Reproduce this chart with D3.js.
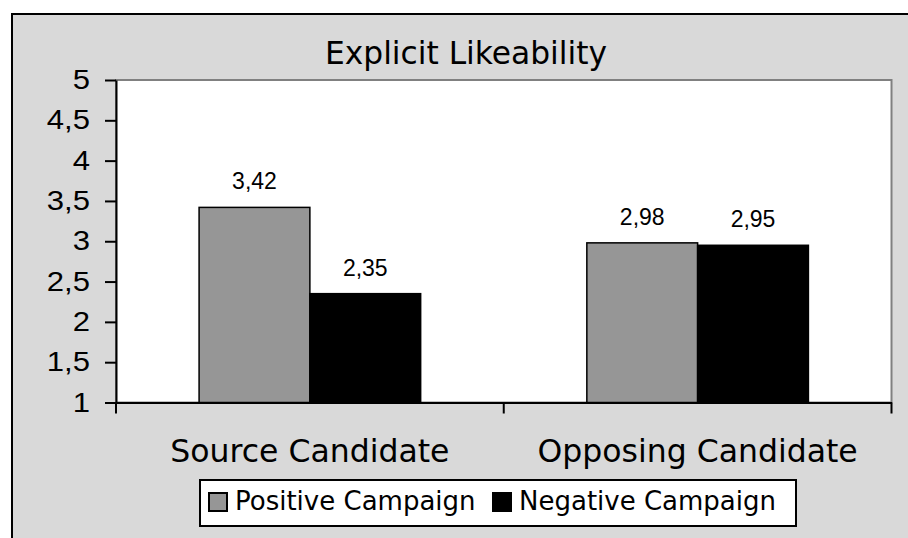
<!DOCTYPE html>
<html>
<head>
<meta charset="utf-8">
<script src="https://cdn.jsdelivr.net/npm/d3@7"></script>
<style>
  html, body { margin: 0; padding: 0; background: #ffffff; }
  svg { display: block; }
</style>
</head>
<body>
<svg id="chart" width="908" height="538"></svg>
<script>
// Chart data
const title = "Explicit Likeability";
const categories = ["Source Candidate", "Opposing Candidate"];
const seriesNames = ["Positive Campaign", "Negative Campaign"];
const positiveCampaign = [3.42, 2.98];
const negativeCampaign = [2.35, 2.95];
const yTicks = [1, 1.5, 2, 2.5, 3, 3.5, 4, 4.5, 5];
const seriesColors = ["#969696", "#000000"];

const W = 908, H = 538;
const plot = { left: 116, right: 891.5, top: 80, bottom: 402.5 };

const svg = d3.select("#chart");

// Decimal comma formatting
const locale = d3.formatLocale({ decimal: ",", thousands: ".", grouping: [3], currency: ["", ""] });
const fmtTick = locale.format("~g");
const fmtVal = locale.format(".2f");

// Chart area background with black frame
svg.append("rect")
  .attr("x", 12).attr("y", 14)
  .attr("width", W + 20).attr("height", H + 20)
  .attr("fill", "#d9d9d9")
  .attr("stroke", "#000").attr("stroke-width", 2);

// Scales
const x = d3.scaleBand().domain(categories).range([plot.left, plot.right]).paddingInner(0).paddingOuter(0);
const xs = d3.scaleBand().domain(seriesNames).range([0, x.bandwidth()]).paddingInner(0).paddingOuter(0.75);
const y = d3.scaleLinear().domain([1, 5]).range([plot.bottom, plot.top]);

// Plot area
svg.append("rect")
  .attr("x", plot.left).attr("y", plot.top)
  .attr("width", plot.right - plot.left).attr("height", plot.bottom - plot.top)
  .attr("fill", "#ffffff")
  .attr("stroke", "#808080").attr("stroke-width", 2);

// Bars
const rows = categories.map((c, i) => ({
  category: c,
  values: [
    { series: seriesNames[0], value: positiveCampaign[i], color: seriesColors[0] },
    { series: seriesNames[1], value: negativeCampaign[i], color: seriesColors[1] }
  ]
}));

const groups = svg.append("g").selectAll("g")
  .data(rows).join("g")
  .attr("transform", d => `translate(${x(d.category)},0)`);

groups.selectAll("rect")
  .data(d => d.values).join("rect")
  .attr("x", d => xs(d.series))
  .attr("y", d => y(d.value))
  .attr("width", xs.bandwidth())
  .attr("height", d => y(1) - y(d.value))
  .attr("fill", d => d.color)
  .attr("stroke", "#000").attr("stroke-width", 1.5);

// Value labels
groups.selectAll("text")
  .data(d => d.values).join("text")
  .attr("x", d => xs(d.series) + xs.bandwidth() / 2)
  .attr("y", d => y(d.value) - 18)
  .attr("text-anchor", "middle")
  .attr("font-family", "'Liberation Sans', Arial, sans-serif")
  .attr("font-size", 23)
  .attr("fill", "#000")
  .text(d => fmtVal(d.value));

// Y axis
const yAxis = svg.append("g")
  .attr("transform", `translate(${plot.left},0)`)
  .call(d3.axisLeft(y).tickValues(yTicks).tickFormat(fmtTick).tickSizeInner(11).tickSizeOuter(0));
yAxis.select(".domain").attr("stroke", "#000").attr("stroke-width", 2);
yAxis.selectAll(".tick line").attr("stroke", "#000").attr("stroke-width", 2);
yAxis.selectAll(".tick text")
  .attr("x", 0)
  .attr("transform", "translate(-26,0) scale(1.15,1)")
  .attr("font-family", "'Liberation Sans', Arial, sans-serif")
  .attr("font-size", 27)
  .attr("fill", "#000");

// X axis line with tick marks at category boundaries
const xAxis = svg.append("g")
  .attr("transform", `translate(0,${plot.bottom})`)
  .call(d3.axisBottom(x).tickSize(0).tickFormat(""));
xAxis.select(".domain").attr("stroke", "#000").attr("stroke-width", 2);
const boundaries = categories.map(c => x(c)).concat([x.range()[1]]);
xAxis.selectAll("line.boundary")
  .data(boundaries).join("line")
  .attr("class", "boundary")
  .attr("x1", d => d).attr("x2", d => d)
  .attr("y1", 0).attr("y2", 11)
  .attr("stroke", "#000").attr("stroke-width", 2);

// Category labels
svg.append("g").selectAll("text")
  .data(categories).join("text")
  .attr("x", d => x(d) + x.bandwidth() / 2)
  .attr("y", 462)
  .attr("text-anchor", "middle")
  .attr("font-family", "'DejaVu Sans', Verdana, sans-serif")
  .attr("font-size", 31.5)
  .attr("fill", "#000")
  .text(d => d);

// Title
svg.append("text")
  .attr("x", 466).attr("y", 64)
  .attr("text-anchor", "middle")
  .attr("font-family", "'DejaVu Sans', Verdana, sans-serif")
  .attr("font-size", 31.3)
  .attr("fill", "#000")
  .text(title);

// Legend
const legend = svg.append("g");
legend.append("rect")
  .attr("x", 200).attr("y", 480)
  .attr("width", 596).attr("height", 46)
  .attr("fill", "#fff")
  .attr("stroke", "#000").attr("stroke-width", 2);
const legendX = [209, 493];
const items = legend.selectAll("g.item")
  .data(seriesNames).join("g")
  .attr("class", "item")
  .attr("transform", (d, i) => `translate(${legendX[i]},0)`);
items.append("rect")
  .attr("x", 0).attr("y", 493)
  .attr("width", 18).attr("height", 18)
  .attr("fill", (d, i) => seriesColors[i])
  .attr("stroke", "#000").attr("stroke-width", 2);
items.append("text")
  .attr("x", 26).attr("y", 510)
  .attr("font-family", "'DejaVu Sans', Verdana, sans-serif")
  .attr("font-size", 26)
  .attr("fill", "#000")
  .text(d => d);
</script>
</body>
</html>
